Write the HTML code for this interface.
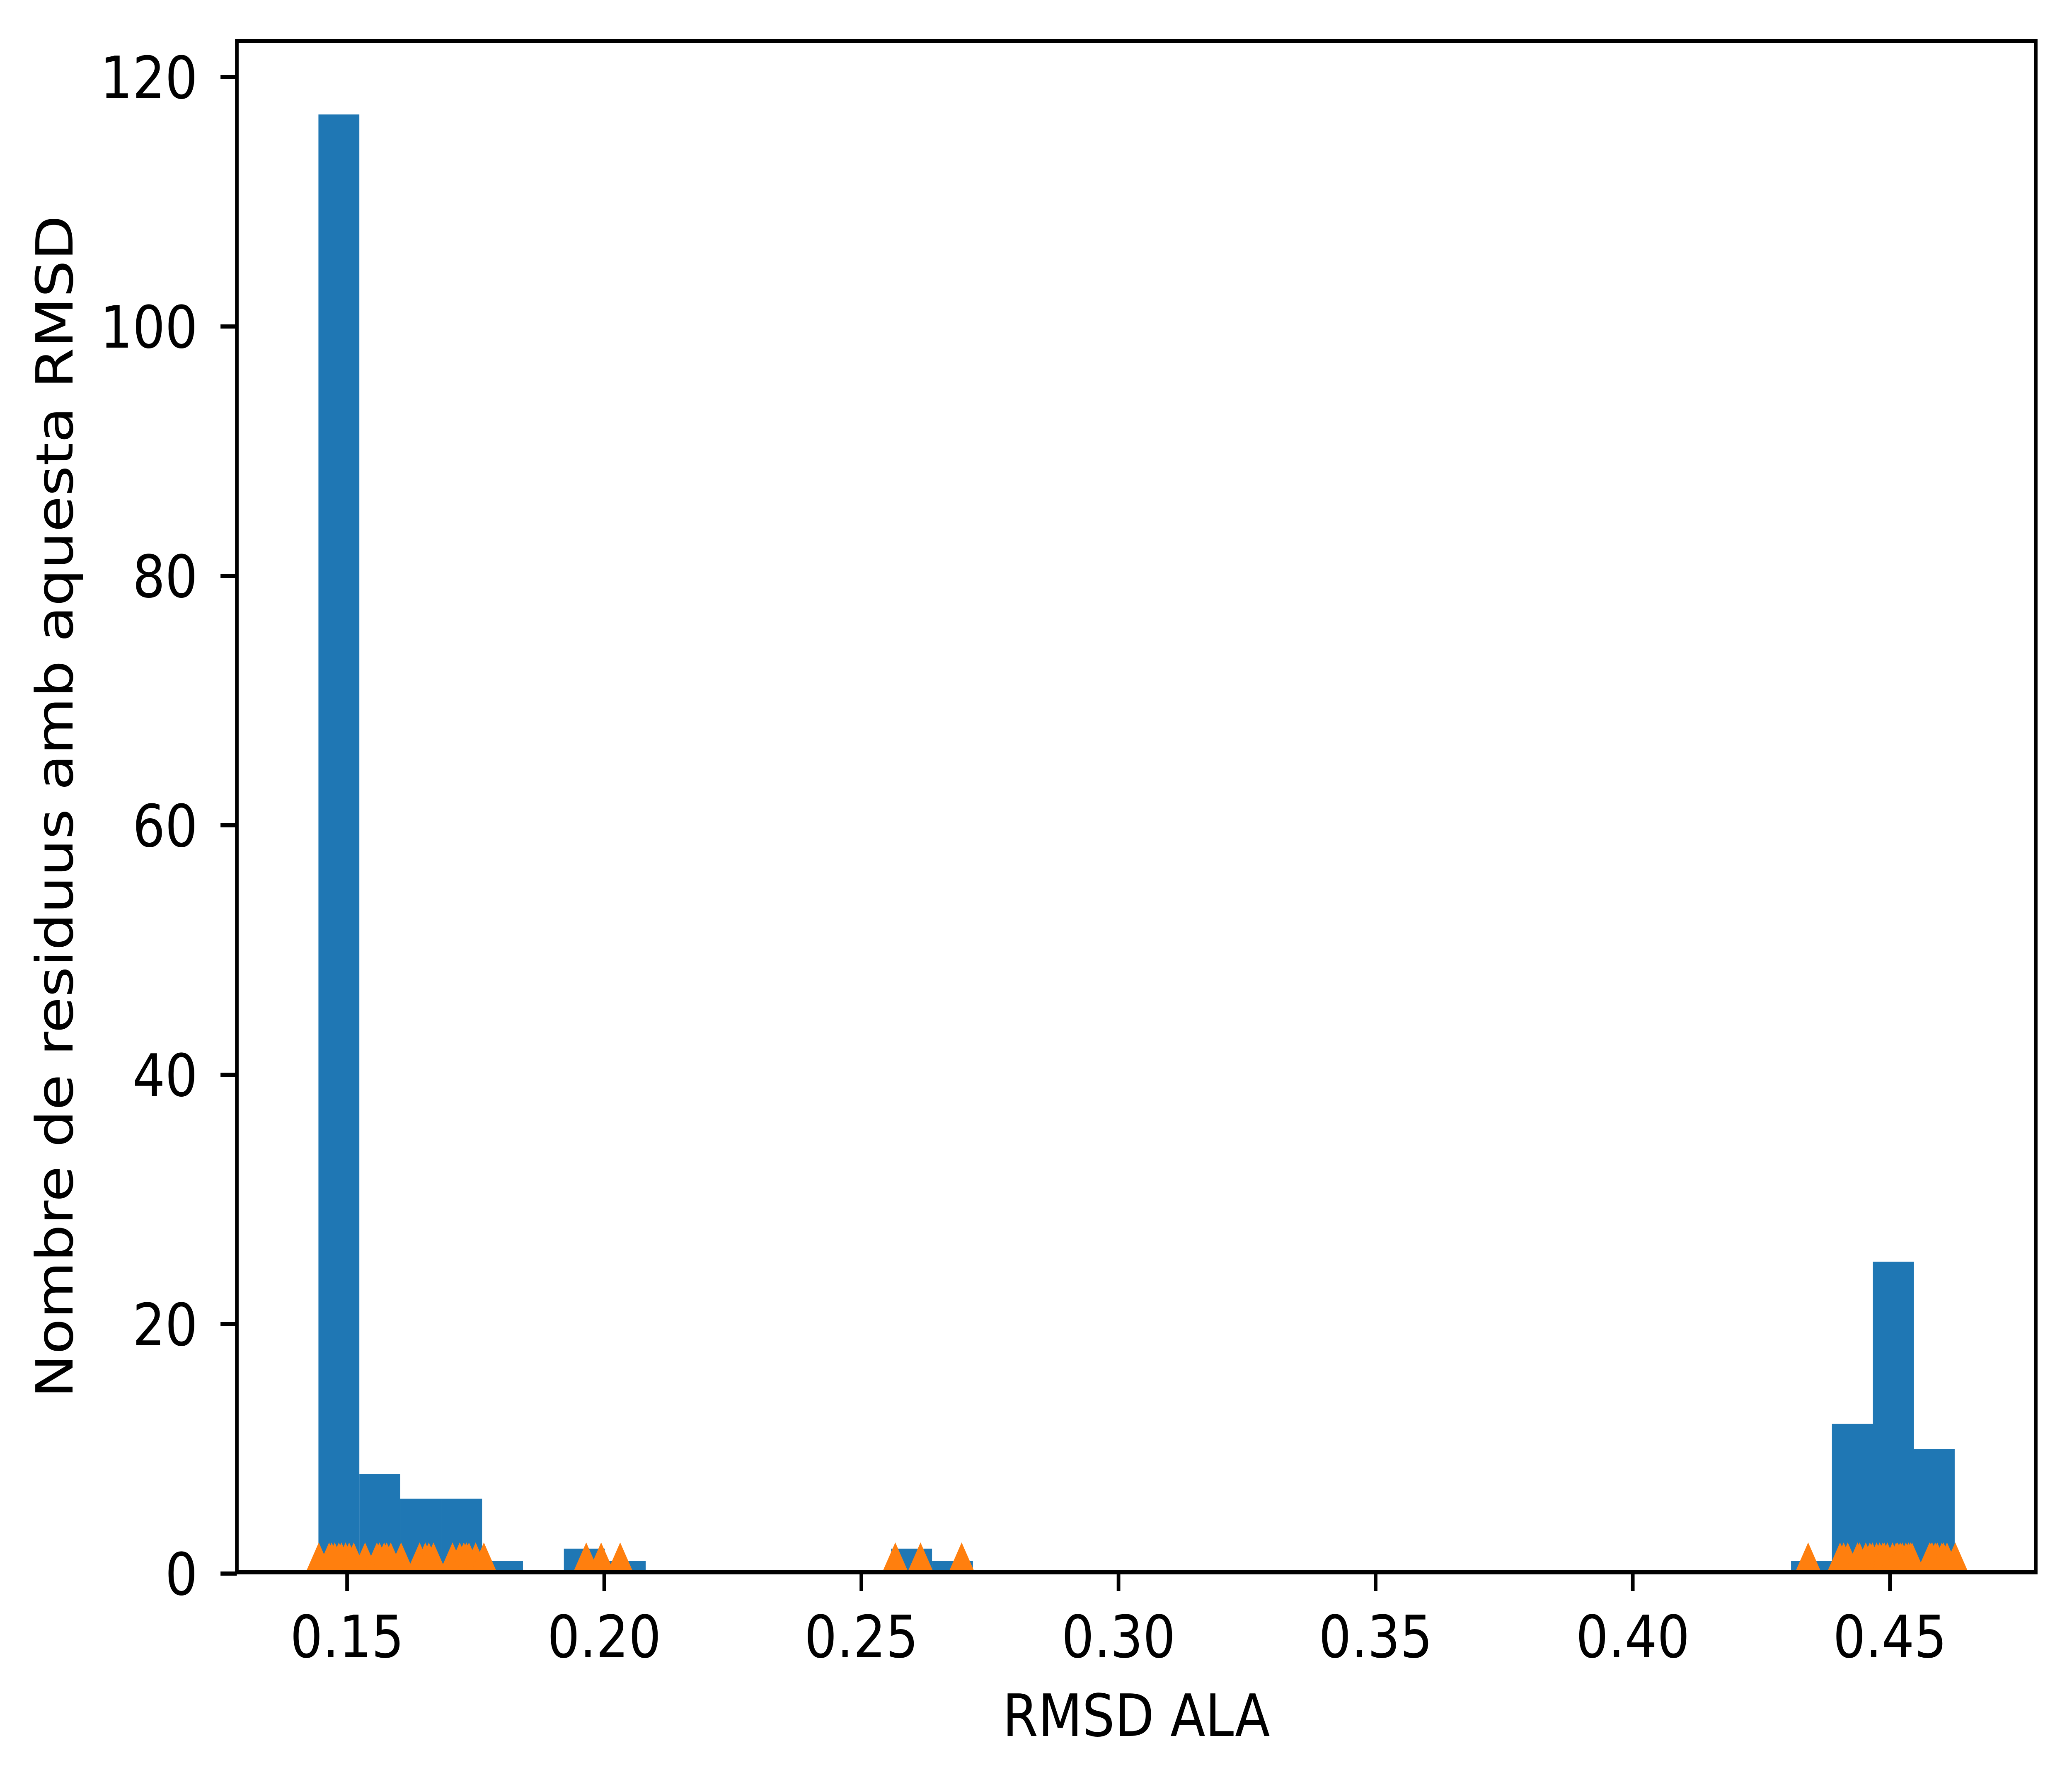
<!DOCTYPE html>
<html><head><meta charset="utf-8"><style>
html,body{margin:0;padding:0;background:#fff;width:100%;height:100%;overflow:hidden}
svg{display:block;width:100vw;height:100vh}
text{font-family:"DejaVu Sans","Liberation Sans",sans-serif;fill:#000}
</style></head><body>
<svg id="chart" viewBox="0 0 5713 4318" preserveAspectRatio="none" xmlns="http://www.w3.org/2000/svg">
<defs><clipPath id="plotclip"><rect x="653" y="99" width="4960" height="3696"/></clipPath></defs>
<rect x="0" y="0" width="5713" height="4318" fill="#fff"/>
<g id="bars" clip-path="url(#plotclip)"></g>
<g id="markers" clip-path="url(#plotclip)"></g>
<g id="axes"></g>
<text x="3133" y="4190" font-size="141" text-anchor="middle">RMSD ALA</text>
<text transform="translate(200,1947) rotate(-90)" font-size="141" text-anchor="middle">Nombre de residuus amb aquesta RMSD</text>
</svg>
<script>
const binStart = 0.14443;
const binWidth = 0.007954;
const counts = [117,8,6,6,1,0,2,1,0,0,0,0,0,0,2,1,0,0,0,0,0,0,0,0,0,0,0,0,0,0,0,0,0,0,0,0,1,12,25,10];
const markerValues = [0.1445,0.1465,0.1470,0.1476,0.1484,0.1489,0.1497,0.1504,0.1513,0.1535,0.1558,0.1563,0.1572,0.1577,0.1585,0.1605,0.1641,0.1652,0.1659,0.1668,0.1705,0.1719,0.1727,0.1732,0.1737,0.1750,0.1766,
0.1965,0.1994,0.2031,0.2566,0.2615,0.2695,
0.4341,0.4403,0.4410,0.4418,0.4437,0.4441,0.4453,0.4461,0.4466,0.4474,0.4480,0.4486,0.4489,0.4495,0.4505,0.4512,0.4515,0.4520,0.4524,0.4531,0.4536,0.4540,0.4543,0.4577,0.4580,0.4582,0.4588,0.4592,0.4601,0.4604,0.4611,0.4627];
const markerLevel = 1;
const xTicks = [0.15,0.20,0.25,0.30,0.35,0.40,0.45];
const xTickLabels = ["0.15","0.20","0.25","0.30","0.35","0.40","0.45"];
const yTicks = [0,20,40,60,80,100,120];
const yTickLabels = ["0","20","40","60","80","100","120"];

const NS = "http://www.w3.org/2000/svg";
const L = 653, R = 5613, T = 99, B = 3795;
function xs(v){ return 957 + (v - 0.15) * 14180; }
function ys(v){ return 3798 - v * 30.1; }
function mk(tag, attrs){ const e = document.createElementNS(NS, tag); for (const k in attrs) e.setAttribute(k, attrs[k]); return e; }

const barsG = document.getElementById('bars');
counts.forEach((c, i) => {
  if (c <= 0) return;
  const x0 = xs(binStart + i * binWidth), x1 = xs(binStart + (i + 1) * binWidth);
  const r = mk('rect', {x: x0, y: ys(c), width: x1 - x0, height: ys(0) - ys(c), fill: '#1f77b4'});
  
  
  barsG.appendChild(r);
});

const mG = document.getElementById('markers');
const s = 45;
markerValues.forEach(v => {
  const cx = xs(v), cy = ys(markerLevel);
  const p = mk('polygon', {points: `${cx},${cy - s} ${cx - s},${cy + s} ${cx + s},${cy + s}`, fill: '#ff7f0e'});
  
  
  mG.appendChild(p);
});

const aG = document.getElementById('axes');
const frame = mk('rect', {x: L, y: T, width: R - L, height: B - T, fill: 'none', stroke: '#000', 'stroke-width': 10});


aG.appendChild(frame);

xTicks.forEach((v, i) => {
  const x = xs(v);
  const t = mk('line', {x1: x, y1: B, x2: x, y2: B + 45, stroke: '#000', 'stroke-width': 10});
  
  
  aG.appendChild(t);
  const lb = mk('text', {x: x, y: 4000, 'font-size': 141, 'text-anchor': 'middle'});
  lb.textContent = xTickLabels[i];
  
  
  aG.appendChild(lb);
});

yTicks.forEach((v, i) => {
  const y = ys(v);
  const t = mk('line', {x1: L - 45, y1: y, x2: L, y2: y, stroke: '#000', 'stroke-width': 10});
  
  
  aG.appendChild(t);
  const lb = mk('text', {x: 545, y: y + 51, 'font-size': 141, 'text-anchor': 'end'});
  lb.textContent = yTickLabels[i];
  
  
  aG.appendChild(lb);
});
</script>
</body></html>
